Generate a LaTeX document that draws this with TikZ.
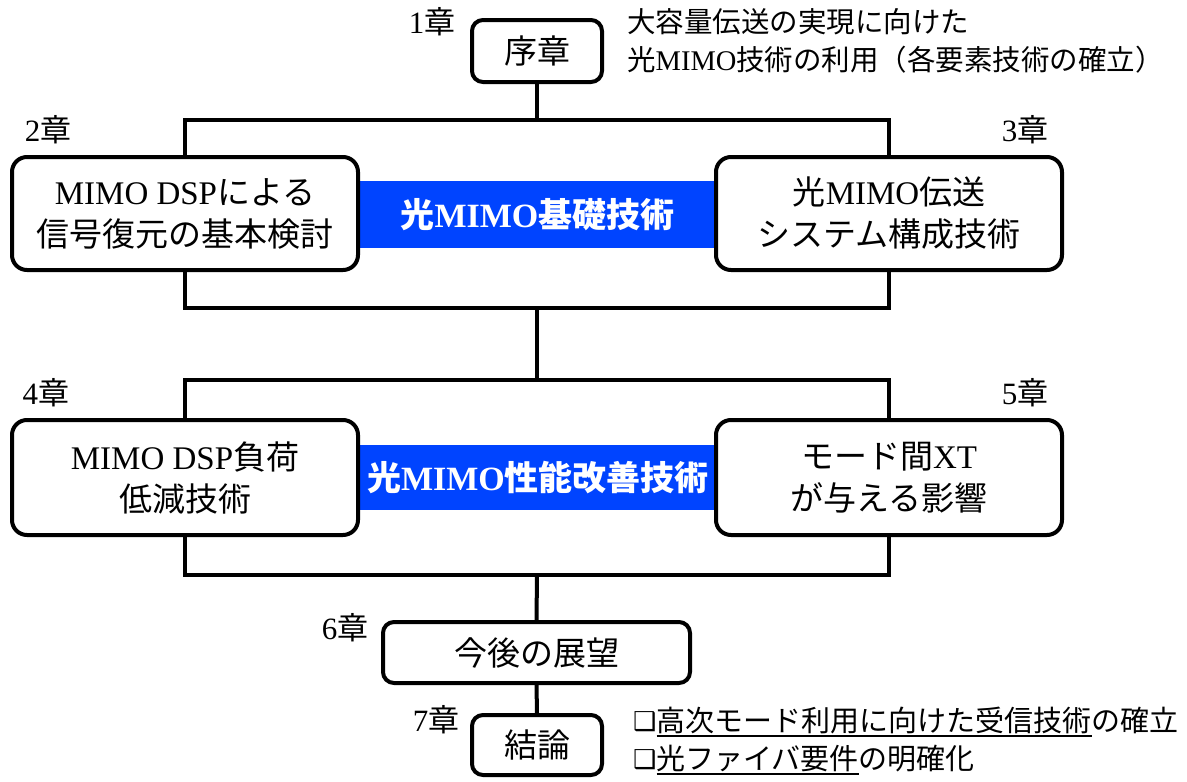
\documentclass[tikz,border=0pt]{standalone}
\usepackage{fontspec}
\setmainfont{Liberation Serif}
\newfontfamily\jp{Noto Sans CJK JP}
\newfontfamily\dv{DejaVu Sans}
\newcommand{\J}[1]{{\jp #1}}
\newcommand{\myul}[1]{\leavevmode\vtop{\hbox{#1}\kern0.5pt\hrule height 2.2pt}}
\newcommand{\bul}{{\dv\bfseries\fontsize{26}{38}\selectfont\raisebox{1pt}{❑}}}
\definecolor{bandblue}{RGB}{0,68,255}
\begin{document}
\begin{tikzpicture}[x=1pt,y=-1pt,
  box/.style={draw=black,line width=4pt,rounded corners=15pt,fill=white,align=center,inner sep=0pt,font=\fontsize{33}{42}\selectfont},
  smallbox/.style={box,rounded corners=11pt},
  band/.style={fill=bandblue,inner sep=0pt,text=white,font=\fontsize{34}{40}\selectfont\bfseries},
  chap/.style={inner sep=0pt,font=\fontsize{31}{34}\selectfont},
  note/.style={inner sep=0pt,align=left},
  conn/.style={line width=4pt}]
\useasboundingbox (0,0) rectangle (1187,782);

% blue bands (behind boxes)
\node[band,minimum width=360pt,minimum height=67pt] (band1) at (537.5,214.5) {\J{光}MIMO\J{基礎技術}};
\node[band,minimum width=360pt,minimum height=65pt] (band2) at (538,477.5) {\J{光}MIMO\J{性能改善技術}};

% boxes
\node[smallbox,minimum width=130pt,minimum height=62pt] (b1) at (537,51) {\J{序章}};
\node[box,minimum width=346pt,minimum height=113pt] (b2) at (185,213.5) {MIMO DSP\J{による}\\\J{信号復元の基本検討}};
\node[box,minimum width=346pt,minimum height=113pt] (b3) at (889,213.5) {\J{光}MIMO\J{伝送}\\\J{システム構成技術}};
\node[box,minimum width=346pt,minimum height=115pt] (b4) at (185,477.5) {MIMO DSP\J{負荷}\\\J{低減技術}};
\node[box,minimum width=346pt,minimum height=115pt] (b5) at (889,477.5) {\J{モード間}XT\\\J{が与える影響}};
\node[smallbox,minimum width=307pt,minimum height=61pt] (b6) at (536.5,652.5) {\J{今後の展望}};
\node[smallbox,minimum width=130pt,minimum height=60pt] (b7) at (537,745) {\J{結論}};

% chapter labels
\node[chap] (c1) at (432,22) {1\J{章}};
\node[chap] (c2) at (48,130) {2\J{章}};
\node[chap] (c3) at (1025,130) {3\J{章}};
\node[chap] (c4) at (46,393) {4\J{章}};
\node[chap] (c5) at (1025,393) {5\J{章}};
\node[chap] (c6) at (345,628) {6\J{章}};
\node[chap] (c7) at (436,720) {7\J{章}};

% notes
\node[note,anchor=west,font=\fontsize{28.5}{38}\selectfont] (n1) at (627,41)
  {\J{大容量伝送の実現に向けた}\\\J{光}MIMO\J{技術の利用（各要素技術の確立）}};
\node[note,anchor=west,font=\fontsize{29}{38}\selectfont] (n2) at (633,741)
  {\bul\myul{\J{高次モード利用に向けた受信技術}}\J{の確立}\\\bul\myul{\J{光ファイバ要件}}\J{の明確化}};

% connectors
\coordinate (t1) at (537,120);
\coordinate (m1) at (537,308);
\coordinate (t2) at (537,380);
\coordinate (m2) at (537,575);
\draw[conn] (b1.south) -- (t1);
\draw[conn] (b2.north) |- (t1) -| (b3.north);
\draw[conn] (b2.south) |- (m1) -| (b3.south);
\draw[conn] (m1) -- (t2);
\draw[conn] (b4.north) |- (t2) -| (b5.north);
\draw[conn] (b4.south) |- (m2) -| (b5.south);
\draw[conn] (m2) -- (b6.north);
\draw[conn] (b6.south) -- (b7.north);
\end{tikzpicture}
\end{document}
